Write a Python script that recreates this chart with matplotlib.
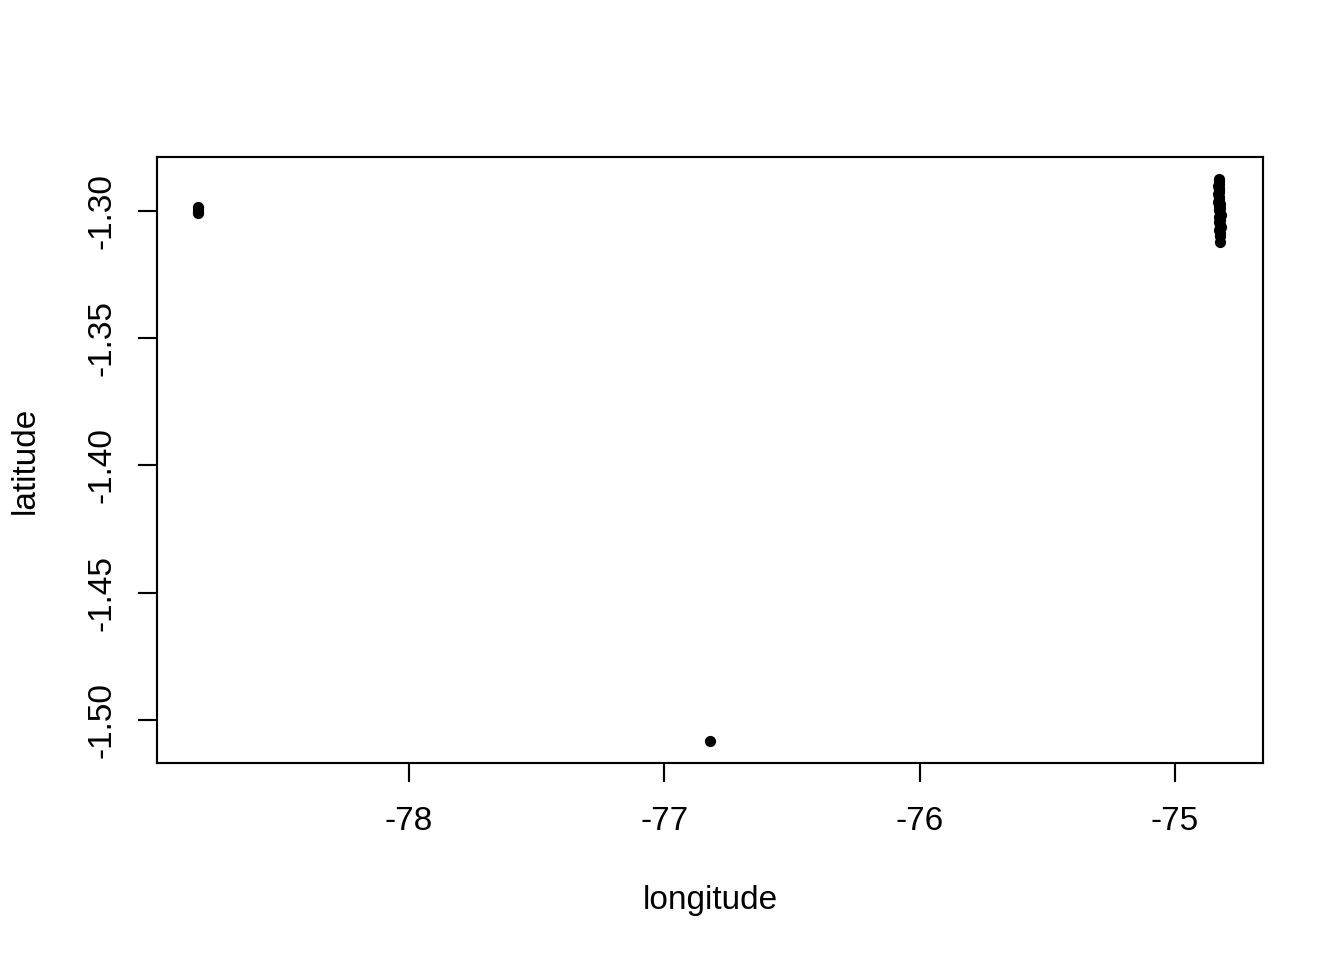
import numpy as np
import matplotlib.pyplot as plt

plt.rcParams['font.family'] = ['Liberation Sans', 'DejaVu Sans']

# coordinates
west_lon = [-78.827, -78.827, -78.828, -78.826]
west_lat = [-1.2984, -1.2992, -1.3002, -1.3008]

south_lon = [-76.820]
south_lat = [-1.5081]

east_lon = [-74.828, -74.829, -74.828, -74.830, -74.828, -74.829, -74.827,
            -74.831, -74.828, -74.826, -74.830, -74.824, -74.829, -74.822,
            -74.827, -74.825, -74.820, -74.826, -74.823, -74.827, -74.825,
            -74.821, -74.826, -74.824, -74.825, -74.824]
east_lat = [-1.2876, -1.2884, -1.2892, -1.2900, -1.2908, -1.2916, -1.2924,
            -1.2934, -1.2944, -1.2954, -1.2964, -1.2972, -1.2982, -1.2990,
            -1.2998, -1.3006, -1.3014, -1.3024, -1.3034, -1.3044, -1.3054,
            -1.3064, -1.3074, -1.3086, -1.3100, -1.3123]

lon = np.array(west_lon + south_lon + east_lon)
lat = np.array(west_lat + south_lat + east_lat)

fig = plt.figure(figsize=(7, 5), dpi=192)
ax = fig.add_axes([157 / 1344, 1 - 763 / 960, (1263 - 157) / 1344, (763 - 157) / 960])
ax.plot(lon, lat, 'o', color='black', markersize=4.2, markeredgewidth=0)

# R style 4% padding
def pad(v):
    r = v.max() - v.min()
    return v.min() - 0.04 * r, v.max() + 0.04 * r

ax.set_xlim(-78.987, -74.655)
ax.set_ylim(*pad(lat))

ax.set_xticks([-78, -77, -76, -75])
ax.set_xticklabels(['-78', '-77', '-76', '-75'])
ax.set_yticks([-1.50, -1.45, -1.40, -1.35, -1.30])
ax.set_yticklabels(['-1.50', '-1.45', '-1.40', '-1.35', '-1.30'], rotation=90, va='center')
ax.tick_params(axis='both', length=7, width=0.8, labelsize=12.5, color='black')
ax.tick_params(axis='x', pad=9)
ax.tick_params(axis='y', pad=8)
for s in ax.spines.values():
    s.set_linewidth(0.8)

ax.set_xlabel('longitude', fontsize=12.5, labelpad=18)
ax.set_ylabel('latitude', fontsize=12.5, labelpad=17)

fig.savefig('out.png', dpi=192)
